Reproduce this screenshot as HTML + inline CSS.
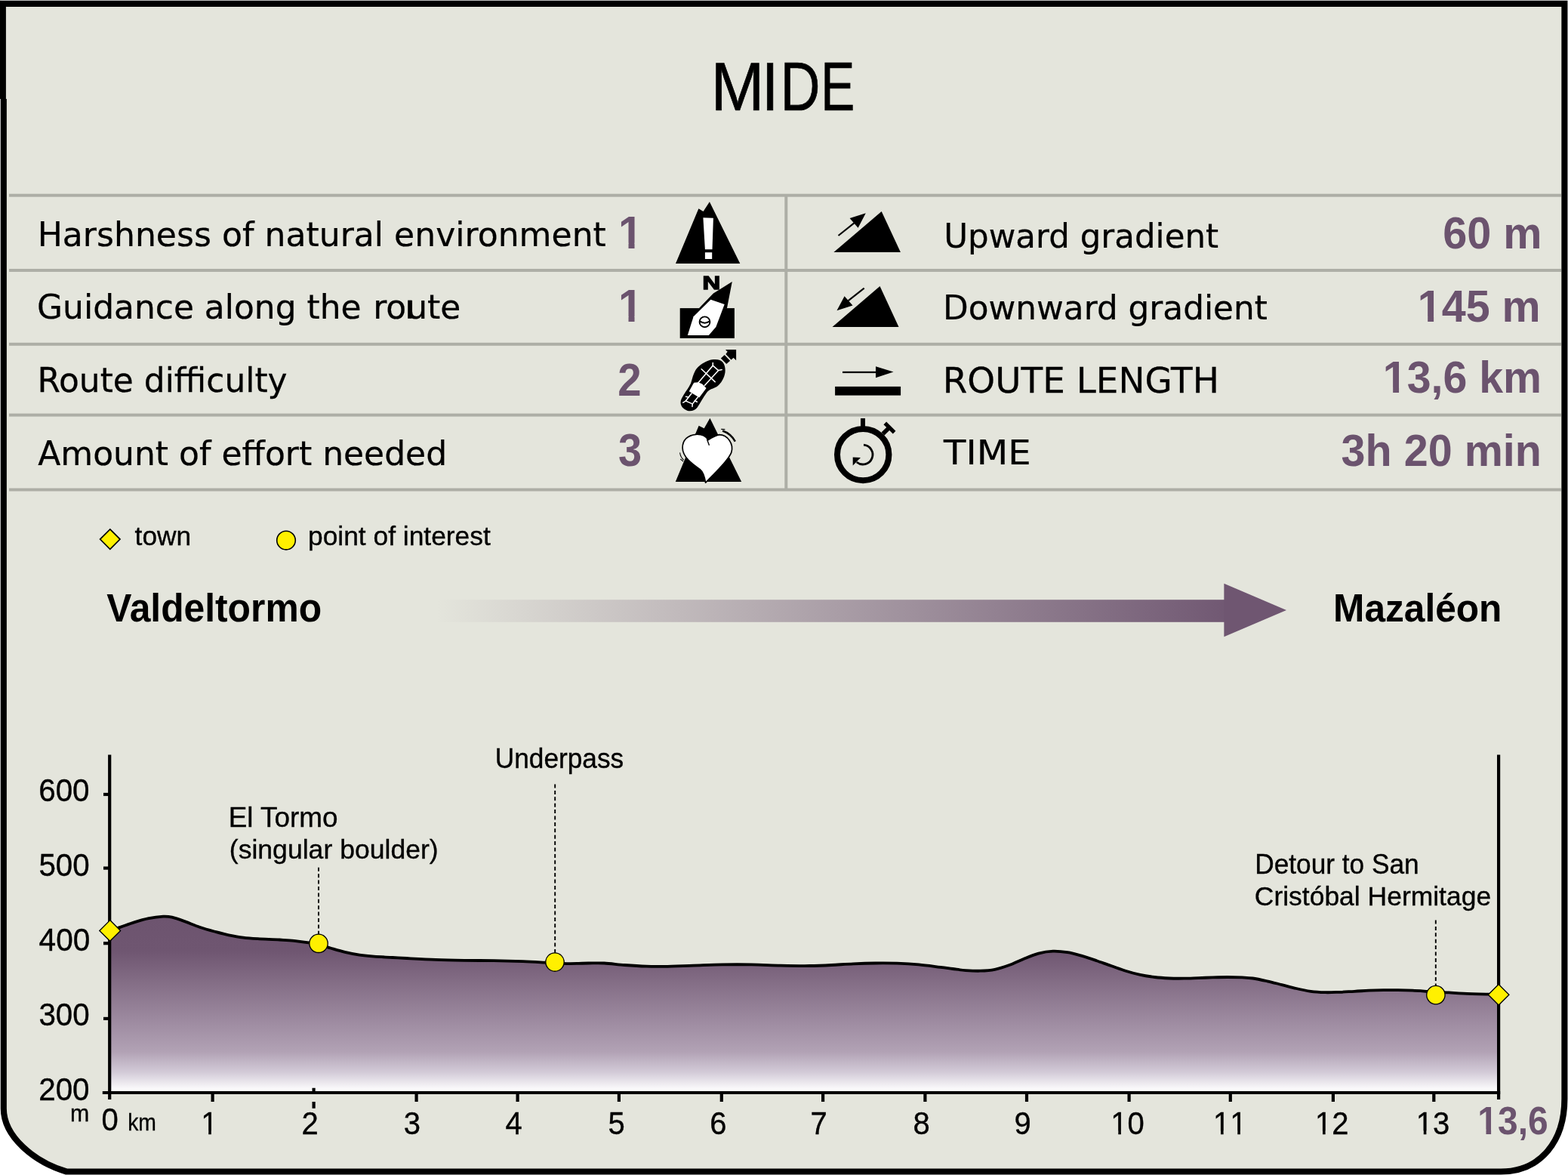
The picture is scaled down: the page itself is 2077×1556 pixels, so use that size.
<!DOCTYPE html>
<html lang="en">
<head>
<meta charset="utf-8">
<title>MIDE - Valdeltormo to Mazaléon</title>
<style>
html,body{margin:0;padding:0;background:#fff;}
body{width:2077px;height:1556px;overflow:hidden;}
svg{display:block;}
text{white-space:pre;}
</style>
</head>
<body>
<svg width="2077" height="1556" viewBox="0 0 2077 1556">
<defs>
<linearGradient id="gArrow" x1="578" y1="0" x2="1640" y2="0" gradientUnits="userSpaceOnUse">
<stop offset="0" stop-color="#e4e5dc"/>
<stop offset="1" stop-color="#6f5671"/>
</linearGradient>
<linearGradient id="gArea" x1="0" y1="1213" x2="0" y2="1447" gradientUnits="userSpaceOnUse">
<stop offset="0" stop-color="#6d546f"/>
<stop offset="0.2" stop-color="#6f5671"/>
<stop offset="0.77" stop-color="#b2a2b5"/>
<stop offset="0.885" stop-color="#d3cbd8"/>
<stop offset="0.99" stop-color="#ffffff"/>
</linearGradient>
<clipPath id="c_n1" clipPathUnits="userSpaceOnUse"><path clip-rule="evenodd" d="M-50 -116 H464 V58 H-50 Z M2.65 -6.82 H13.51 V3.00 H2.65 Z M21.52 -6.82 H31.62 V3.00 H21.52 Z"/></clipPath>
<clipPath id="c_n2" clipPathUnits="userSpaceOnUse"><path clip-rule="evenodd" d="M-50 -116 H464 V58 H-50 Z M2.65 -6.82 H13.51 V3.00 H2.65 Z M21.52 -6.82 H31.62 V3.00 H21.52 Z"/></clipPath>
<clipPath id="c_v2" clipPathUnits="userSpaceOnUse"><path clip-rule="evenodd" d="M-50 -115 H460 V57 H-50 Z M2.62 -6.76 H13.40 V3.00 H2.62 Z M21.33 -6.76 H31.36 V3.00 H21.33 Z"/></clipPath>
<clipPath id="c_v3" clipPathUnits="userSpaceOnUse"><path clip-rule="evenodd" d="M-50 -115 H460 V57 H-50 Z M2.62 -6.76 H13.40 V3.00 H2.62 Z M21.33 -6.76 H31.36 V3.00 H21.33 Z"/></clipPath>
<clipPath id="c_x1" clipPathUnits="userSpaceOnUse"><path clip-rule="evenodd" d="M-50 -80 H320 V40 H-50 Z M2.04 -3.90 H10.04 V3.00 H2.04 Z M13.60 -3.90 H21.28 V3.00 H13.60 Z"/></clipPath>
<clipPath id="c_x10" clipPathUnits="userSpaceOnUse"><path clip-rule="evenodd" d="M-50 -80 H320 V40 H-50 Z M2.04 -3.90 H10.04 V3.00 H2.04 Z M13.60 -3.90 H21.28 V3.00 H13.60 Z"/></clipPath>
<clipPath id="c_x11" clipPathUnits="userSpaceOnUse"><path clip-rule="evenodd" d="M-50 -80 H320 V40 H-50 Z M2.04 -3.90 H10.04 V3.00 H2.04 Z M13.60 -3.90 H21.28 V3.00 H13.60 Z M24.29 -3.90 H32.29 V3.00 H24.29 Z M35.85 -3.90 H43.53 V3.00 H35.85 Z"/></clipPath>
<clipPath id="c_x12" clipPathUnits="userSpaceOnUse"><path clip-rule="evenodd" d="M-50 -80 H320 V40 H-50 Z M2.04 -3.90 H10.04 V3.00 H2.04 Z M13.60 -3.90 H21.28 V3.00 H13.60 Z"/></clipPath>
<clipPath id="c_x13" clipPathUnits="userSpaceOnUse"><path clip-rule="evenodd" d="M-50 -80 H320 V40 H-50 Z M2.04 -3.90 H10.04 V3.00 H2.04 Z M13.60 -3.90 H21.28 V3.00 H13.60 Z"/></clipPath>
<clipPath id="c_xe" clipPathUnits="userSpaceOnUse"><path clip-rule="evenodd" d="M-50 -100 H400 V50 H-50 Z M2.15 -6.00 H11.65 V3.00 H2.15 Z M18.55 -6.00 H27.40 V3.00 H18.55 Z"/></clipPath>
</defs>
<rect width="2077" height="1556" fill="#fff"/>
<!-- frame -->
<path id="frame" d="M4.8 4.9 H2072.4 V1455 C2072.4 1512 2040 1551.5 1988 1551.5 H88 C45 1538.6 4.8 1505 4.8 1468 Z" fill="#e4e5dc" stroke="#000" stroke-width="8.1" stroke-linejoin="miter"/>
<path d="M0 0.8H1.2V131H0Z" fill="#000"/><path d="M7.9 8.95H9.2V131H7.9Z" fill="#e4e5dc"/>
<!-- table rules -->
<g fill="#adaea6">
<rect x="12" y="256.7" width="2056" height="4" />
<rect x="12" y="356.0" width="2056" height="4" />
<rect x="12" y="453.8" width="2056" height="4" />
<rect x="12" y="547.6" width="2056" height="4" />
<rect x="12" y="646.5" width="2056" height="4" />
<rect x="1039.3" y="258.7" width="4" height="390"/>
</g>
<!-- icons -->
<g id="ico-harsh">
<path d="M895 349 L925.4 276.3 L931.6 280.1 L939.9 267.2 L980.3 349 Z" fill="#000"/>
<path d="M931.4 288.2 L944.9 288.8 L943.5 330.2 L933.9 330.2 Z M933.9 334.2 H943.2 V343 H933.9 Z" fill="#fff"/>
</g>
<g id="ico-compass">
<rect x="900.7" y="408.1" width="72.2" height="39.8" fill="#000"/>
<path d="M925.6 408.6 L944.9 388.4 L953 383.5 L969.8 373 L962.9 408.6 Z" fill="#000"/>
<path d="M941.4 396.8 L959.7 402.9 L948.4 433.1 L938.8 444 L910.8 444 L918.6 419.3 Z" fill="#fff"/>
<circle cx="933.5" cy="426.3" r="6.9" fill="none" stroke="#000" stroke-width="1.9"/>
<path d="M927 425.4 Q933.5 430 940 425.4" fill="none" stroke="#000" stroke-width="1.9"/>
</g>
<g id="ico-boot" transform="translate(880 452) scale(0.06427)">
<path d="M1050 375 C1200 375 1255 470 1255 600 C1255 740 1160 900 1050 950 C960 990 920 1000 870 1060 C800 1150 740 1270 680 1360 C640 1420 560 1445 480 1430 C390 1400 335 1330 335 1260 C335 1210 360 1170 400 1100 C450 1020 520 930 550 850 C580 760 590 690 640 600 C700 500 800 440 900 400 C960 380 1000 375 1050 375 Z" fill="#000"/>
<path d="M1165 350 L1240 282 L1355 400 L1280 468 Z" fill="#000"/>
<path d="M1260 172 L1480 172 L1480 392 L1425 340 L1378 382 L1265 264 L1302 215 Z" fill="#000"/>
<g fill="none" stroke="#fff" stroke-width="24" stroke-linecap="round">
<path d="M700 850 L1000 500 L1115 600 L830 910"/>
<path d="M1000 445 L1000 500 M1115 600 L1185 585"/>
<path d="M765 572 L1045 835"/>
<path d="M560 1075 L440 1230 L580 1290 L690 1150"/>
<path d="M440 1230 L385 1262 M580 1290 L575 1345 M445 1140 L500 1150 M625 1222 L675 1248"/>
</g>
<path d="M610 850 L700 845 L780 880 L865 965 L720 1160 L510 1030 Z" fill="#fff"/>
</g>
<g id="ico-heart" transform="translate(880 548) scale(0.06427)">
<path d="M230 1400 L710 245 L820 300 L940 90 L1590 1400 Z" fill="#000"/>
<path d="M900 540 C850 440 750 420 650 425 C480 440 375 540 375 700 C375 900 600 1050 740 1150 C800 1200 830 1300 850 1420 C1000 1250 1300 1000 1380 800 C1440 620 1300 430 1130 430 C1040 450 960 500 900 540 Z" fill="#fff" stroke="#000" stroke-width="26" stroke-linejoin="round"/>
<path d="M880 530 L925 650" stroke="#000" stroke-width="22" fill="none"/>
<path d="M1200 350 C1320 390 1400 460 1460 570" stroke="#000" stroke-width="38" fill="none"/>
<path d="M1170 318 L1250 320" stroke="#000" stroke-width="18" fill="none"/>
<path d="M320 800 C330 870 360 920 400 950 M330 930 L390 980" stroke="#000" stroke-width="16" fill="none"/>
</g>
<g id="ico-up" fill="#000">
<path d="M1104.4 334.1 L1167.7 279.9 L1192.9 334.1 Z"/>
<path d="M1110.5 312 L1131.4 295.3" stroke="#000" stroke-width="2.2" fill="none"/>
<path d="M1146.8 282.2 L1125.6 289.1 L1136.6 301.7 Z"/>
</g>
<g id="ico-down" fill="#000">
<path d="M1102.5 433.1 L1165.5 379.1 L1190.5 433.1 Z"/>
<path d="M1144.7 381.7 L1123.7 398.1" stroke="#000" stroke-width="2.2" fill="none"/>
<path d="M1108.5 411.2 L1118.6 392.3 L1129.5 404.5 Z"/>
</g>
<g id="ico-len" fill="#000">
<rect x="1106.1" y="511.9" width="87" height="11.7"/>
<rect x="1116" y="491.8" width="45" height="2.3"/>
<path d="M1160 485.2 L1183.5 492.6 L1160 500.2 Z"/>
</g>
<g id="ico-time" fill="none" stroke="#000">
<circle cx="1143.2" cy="602.1" r="34.2" stroke-width="8"/>
<path d="M1143 553.9 V566" stroke-width="6"/>
<path d="M1169.5 574.6 L1176.6 567.5" stroke-width="5.6"/>
<path d="M1172.3 560.4 L1184.6 572.7" stroke-width="5.2"/>
<path d="M1144 589.2 A12.9 12.9 0 1 1 1134.8 612" stroke-width="2.8"/>
<path d="M1129.7 605.6 L1140 605.9 L1129.7 616.5 Z" fill="#000" stroke="none"/>
</g>
<path d="M540.2 397.6H545.6V421.8H540.2Z" fill="#000"/>
<!-- legend -->
<path d="M145.8 700.9 L159 714.1 L145.8 727.3 L132.6 714.1 Z" fill="#fff000" stroke="#000" stroke-width="1.7"/>
<circle cx="379" cy="715.6" r="12.3" fill="#fff000" stroke="#000" stroke-width="1.6"/>
<!-- direction arrow -->
<rect x="576" y="794.2" width="1046" height="29.6" fill="url(#gArrow)"/>
<path d="M1621.4 772.7 L1704 808 L1621.4 843.3 Z" fill="#6f5671"/>
<!-- profile -->
<path d="M145.2 1232.4C147.4 1231.7 153.1 1229.9 158.5 1228.1C163.9 1226.3 171.4 1223.4 177.8 1221.4C184.2 1219.4 190.6 1217.5 197.0 1216.2C203.4 1214.9 211.2 1214.0 216.3 1213.7C221.4 1213.5 223.0 1213.6 227.8 1214.7C232.6 1215.8 239.1 1218.2 245.2 1220.4C251.3 1222.6 258.0 1225.6 264.4 1227.8C270.8 1230.0 277.3 1231.8 283.7 1233.5C290.1 1235.2 296.6 1237.0 303.0 1238.3C309.4 1239.6 315.8 1240.8 322.2 1241.6C328.6 1242.4 333.5 1242.7 341.5 1243.2C349.5 1243.7 362.4 1244.0 370.4 1244.5C378.4 1245.0 383.2 1245.2 389.6 1245.9C396.0 1246.6 403.5 1247.6 408.9 1248.4C414.3 1249.2 417.2 1249.8 422.0 1251.0C426.8 1252.2 432.0 1253.8 437.8 1255.5C443.6 1257.2 450.6 1259.4 457.0 1260.9C463.4 1262.4 469.9 1263.7 476.3 1264.7C482.7 1265.7 488.2 1266.2 495.5 1266.7C502.8 1267.2 512.8 1267.6 520.0 1268.0C527.2 1268.4 529.0 1268.5 538.5 1269.0C548.0 1269.5 564.1 1270.4 577.0 1270.9C589.9 1271.4 602.8 1271.6 615.6 1271.8C628.4 1272.0 641.2 1272.0 654.0 1272.2C666.8 1272.4 681.4 1272.8 692.6 1273.2C703.9 1273.6 714.4 1274.3 721.5 1274.7C728.6 1275.1 730.2 1275.2 735.0 1275.4C739.8 1275.6 743.0 1276.1 750.4 1276.1C757.8 1276.1 771.0 1275.6 779.3 1275.5C787.6 1275.4 792.4 1275.1 800.4 1275.5C808.4 1275.9 818.1 1277.3 827.4 1278.0C836.7 1278.7 847.5 1279.4 856.3 1279.7C865.1 1280.0 869.6 1280.0 880.0 1279.8C890.4 1279.6 905.7 1279.0 918.5 1278.6C931.3 1278.2 944.1 1277.6 957.0 1277.4C969.9 1277.2 982.8 1277.2 995.6 1277.4C1008.4 1277.6 1021.2 1278.3 1034.0 1278.6C1046.8 1278.9 1061.3 1279.1 1072.6 1279.0C1083.8 1278.9 1091.9 1278.5 1101.5 1278.0C1111.1 1277.5 1120.8 1276.7 1130.4 1276.3C1140.0 1275.9 1149.7 1275.6 1159.3 1275.5C1168.9 1275.4 1178.5 1275.4 1188.1 1275.7C1197.7 1276.0 1207.4 1276.5 1217.0 1277.4C1226.6 1278.3 1238.4 1280.0 1245.9 1280.9C1253.4 1281.8 1256.4 1282.3 1262.0 1283.0C1267.6 1283.7 1273.2 1284.6 1279.3 1285.1C1285.4 1285.5 1292.1 1285.9 1298.5 1285.7C1304.9 1285.5 1311.4 1285.1 1317.8 1283.8C1324.2 1282.5 1330.6 1280.3 1337.0 1278.0C1343.4 1275.7 1349.9 1272.3 1356.3 1269.7C1362.7 1267.1 1369.2 1264.3 1375.6 1262.6C1382.0 1260.9 1388.4 1259.9 1394.8 1259.7C1401.2 1259.5 1407.7 1260.2 1414.1 1261.2C1420.5 1262.2 1426.9 1264.1 1433.3 1265.9C1439.7 1267.7 1446.2 1270.0 1452.6 1272.2C1459.0 1274.4 1465.4 1276.8 1471.8 1279.0C1478.2 1281.2 1484.7 1283.7 1491.1 1285.7C1497.5 1287.7 1504.0 1289.5 1510.4 1290.9C1516.8 1292.3 1523.2 1293.2 1529.6 1294.0C1536.0 1294.8 1542.5 1295.2 1548.9 1295.5C1555.3 1295.8 1561.7 1295.8 1568.1 1295.7C1574.5 1295.6 1581.0 1295.3 1587.4 1295.1C1593.8 1294.9 1600.2 1294.6 1606.6 1294.4C1613.0 1294.2 1619.5 1294.0 1625.9 1294.0C1632.3 1294.0 1639.6 1294.2 1645.2 1294.4C1650.8 1294.7 1653.8 1294.7 1659.3 1295.5C1664.8 1296.3 1672.1 1297.9 1678.5 1299.3C1684.9 1300.7 1691.4 1302.5 1697.8 1304.1C1704.2 1305.7 1710.6 1307.5 1717.0 1309.0C1723.4 1310.5 1729.9 1311.9 1736.3 1312.8C1742.7 1313.7 1749.2 1314.0 1755.6 1314.2C1762.0 1314.4 1768.4 1314.0 1774.8 1313.8C1781.2 1313.6 1787.7 1313.1 1794.1 1312.8C1800.5 1312.5 1806.9 1312.0 1813.3 1311.7C1819.7 1311.4 1826.2 1311.2 1832.6 1311.1C1839.0 1311.0 1845.4 1311.0 1851.8 1311.1C1858.2 1311.2 1864.7 1311.4 1871.1 1311.7C1877.5 1312.0 1885.3 1312.5 1890.4 1312.8C1895.5 1313.1 1897.1 1313.3 1901.9 1313.6C1906.7 1313.9 1913.2 1314.1 1919.3 1314.4C1925.4 1314.8 1929.8 1315.3 1938.5 1315.7C1947.2 1316.1 1963.5 1316.5 1971.2 1316.7C1979.0 1317.0 1982.7 1317.1 1985.0 1317.2L1985 1447L145.2 1447Z" fill="url(#gArea)"/>
<path d="M145.2 1232.4C147.4 1231.7 153.1 1229.9 158.5 1228.1C163.9 1226.3 171.4 1223.4 177.8 1221.4C184.2 1219.4 190.6 1217.5 197.0 1216.2C203.4 1214.9 211.2 1214.0 216.3 1213.7C221.4 1213.5 223.0 1213.6 227.8 1214.7C232.6 1215.8 239.1 1218.2 245.2 1220.4C251.3 1222.6 258.0 1225.6 264.4 1227.8C270.8 1230.0 277.3 1231.8 283.7 1233.5C290.1 1235.2 296.6 1237.0 303.0 1238.3C309.4 1239.6 315.8 1240.8 322.2 1241.6C328.6 1242.4 333.5 1242.7 341.5 1243.2C349.5 1243.7 362.4 1244.0 370.4 1244.5C378.4 1245.0 383.2 1245.2 389.6 1245.9C396.0 1246.6 403.5 1247.6 408.9 1248.4C414.3 1249.2 417.2 1249.8 422.0 1251.0C426.8 1252.2 432.0 1253.8 437.8 1255.5C443.6 1257.2 450.6 1259.4 457.0 1260.9C463.4 1262.4 469.9 1263.7 476.3 1264.7C482.7 1265.7 488.2 1266.2 495.5 1266.7C502.8 1267.2 512.8 1267.6 520.0 1268.0C527.2 1268.4 529.0 1268.5 538.5 1269.0C548.0 1269.5 564.1 1270.4 577.0 1270.9C589.9 1271.4 602.8 1271.6 615.6 1271.8C628.4 1272.0 641.2 1272.0 654.0 1272.2C666.8 1272.4 681.4 1272.8 692.6 1273.2C703.9 1273.6 714.4 1274.3 721.5 1274.7C728.6 1275.1 730.2 1275.2 735.0 1275.4C739.8 1275.6 743.0 1276.1 750.4 1276.1C757.8 1276.1 771.0 1275.6 779.3 1275.5C787.6 1275.4 792.4 1275.1 800.4 1275.5C808.4 1275.9 818.1 1277.3 827.4 1278.0C836.7 1278.7 847.5 1279.4 856.3 1279.7C865.1 1280.0 869.6 1280.0 880.0 1279.8C890.4 1279.6 905.7 1279.0 918.5 1278.6C931.3 1278.2 944.1 1277.6 957.0 1277.4C969.9 1277.2 982.8 1277.2 995.6 1277.4C1008.4 1277.6 1021.2 1278.3 1034.0 1278.6C1046.8 1278.9 1061.3 1279.1 1072.6 1279.0C1083.8 1278.9 1091.9 1278.5 1101.5 1278.0C1111.1 1277.5 1120.8 1276.7 1130.4 1276.3C1140.0 1275.9 1149.7 1275.6 1159.3 1275.5C1168.9 1275.4 1178.5 1275.4 1188.1 1275.7C1197.7 1276.0 1207.4 1276.5 1217.0 1277.4C1226.6 1278.3 1238.4 1280.0 1245.9 1280.9C1253.4 1281.8 1256.4 1282.3 1262.0 1283.0C1267.6 1283.7 1273.2 1284.6 1279.3 1285.1C1285.4 1285.5 1292.1 1285.9 1298.5 1285.7C1304.9 1285.5 1311.4 1285.1 1317.8 1283.8C1324.2 1282.5 1330.6 1280.3 1337.0 1278.0C1343.4 1275.7 1349.9 1272.3 1356.3 1269.7C1362.7 1267.1 1369.2 1264.3 1375.6 1262.6C1382.0 1260.9 1388.4 1259.9 1394.8 1259.7C1401.2 1259.5 1407.7 1260.2 1414.1 1261.2C1420.5 1262.2 1426.9 1264.1 1433.3 1265.9C1439.7 1267.7 1446.2 1270.0 1452.6 1272.2C1459.0 1274.4 1465.4 1276.8 1471.8 1279.0C1478.2 1281.2 1484.7 1283.7 1491.1 1285.7C1497.5 1287.7 1504.0 1289.5 1510.4 1290.9C1516.8 1292.3 1523.2 1293.2 1529.6 1294.0C1536.0 1294.8 1542.5 1295.2 1548.9 1295.5C1555.3 1295.8 1561.7 1295.8 1568.1 1295.7C1574.5 1295.6 1581.0 1295.3 1587.4 1295.1C1593.8 1294.9 1600.2 1294.6 1606.6 1294.4C1613.0 1294.2 1619.5 1294.0 1625.9 1294.0C1632.3 1294.0 1639.6 1294.2 1645.2 1294.4C1650.8 1294.7 1653.8 1294.7 1659.3 1295.5C1664.8 1296.3 1672.1 1297.9 1678.5 1299.3C1684.9 1300.7 1691.4 1302.5 1697.8 1304.1C1704.2 1305.7 1710.6 1307.5 1717.0 1309.0C1723.4 1310.5 1729.9 1311.9 1736.3 1312.8C1742.7 1313.7 1749.2 1314.0 1755.6 1314.2C1762.0 1314.4 1768.4 1314.0 1774.8 1313.8C1781.2 1313.6 1787.7 1313.1 1794.1 1312.8C1800.5 1312.5 1806.9 1312.0 1813.3 1311.7C1819.7 1311.4 1826.2 1311.2 1832.6 1311.1C1839.0 1311.0 1845.4 1311.0 1851.8 1311.1C1858.2 1311.2 1864.7 1311.4 1871.1 1311.7C1877.5 1312.0 1885.3 1312.5 1890.4 1312.8C1895.5 1313.1 1897.1 1313.3 1901.9 1313.6C1906.7 1313.9 1913.2 1314.1 1919.3 1314.4C1925.4 1314.8 1929.8 1315.3 1938.5 1315.7C1947.2 1316.1 1963.5 1316.5 1971.2 1316.7C1979.0 1317.0 1982.7 1317.1 1985.0 1317.2" fill="none" stroke="#000" stroke-width="3.8"/>
<g stroke="#000" stroke-width="4.2" fill="none">
<line x1="145.2" y1="999.4" x2="145.2" y2="1456"/>
<line x1="1985.1" y1="999.4" x2="1985.1" y2="1456"/>
<line x1="135.8" y1="1447" x2="1987.2" y2="1447"/>
<line x1="137" y1="1052.0" x2="145" y2="1052.0"/>
<line x1="137" y1="1149.6" x2="145" y2="1149.6"/>
<line x1="137" y1="1249.2" x2="145" y2="1249.2"/>
<line x1="137" y1="1348.9" x2="145" y2="1348.9"/>
<line x1="281.6" y1="1447" x2="281.6" y2="1459"/>
<path d="M415.6 1440.8V1448M415.6 1459.1V1467.8"/>
<line x1="551.6" y1="1447" x2="551.6" y2="1459"/>
<line x1="685.6" y1="1447" x2="685.6" y2="1459"/>
<line x1="819.9" y1="1447" x2="819.9" y2="1459"/>
<line x1="955.8" y1="1447" x2="955.8" y2="1459"/>
<line x1="1090.1" y1="1447" x2="1090.1" y2="1459"/>
<line x1="1225.4" y1="1447" x2="1225.4" y2="1459"/>
<line x1="1360.0" y1="1447" x2="1360.0" y2="1459"/>
<line x1="1495.6" y1="1447" x2="1495.6" y2="1459"/>
<line x1="1629.8" y1="1447" x2="1629.8" y2="1459"/>
<line x1="1765.9" y1="1447" x2="1765.9" y2="1459"/>
<line x1="1899.3" y1="1447" x2="1899.3" y2="1459"/>
</g>
<g stroke="#000" stroke-width="1.9" stroke-dasharray="5 3.4" fill="none">
<line x1="422" y1="1148.8" x2="422" y2="1238"/>
<line x1="735.2" y1="1038.5" x2="735.2" y2="1263"/>
<line x1="1901.8" y1="1218.5" x2="1901.8" y2="1306"/>
</g>
<g fill="#fff000" stroke="#000" stroke-width="1.35">
<circle cx="422" cy="1249.3" r="12.2"/>
<circle cx="735" cy="1274" r="12.2"/>
<circle cx="1901.9" cy="1317.6" r="12.2"/>
<path d="M145.7 1218.6 L159.6 1232.4 L145.7 1246.2 L131.8 1232.4 Z"/>
<path d="M1985.1 1303.4 L1998.9 1317.2 L1985.1 1331 L1971.3 1317.2 Z"/>
</g>
<!-- text -->
<text id="title" aria-label="MIDE" y="146.00" font-family='"Liberation Sans", sans-serif' font-size="91" fill="#000" stroke="#000" stroke-width="0.7"><tspan x="941.86" textLength="70.48" lengthAdjust="spacingAndGlyphs">M</tspan><tspan x="1008.87" textLength="22.65" lengthAdjust="spacingAndGlyphs">I</tspan><tspan x="1033.82" textLength="52.67" lengthAdjust="spacingAndGlyphs">D</tspan><tspan x="1087.26" textLength="45.04" lengthAdjust="spacingAndGlyphs">E</tspan></text>
<text id="l1" transform="translate(49.67 326.20) scale(0.9800 1.0000)" font-family='"DejaVu Sans", "Liberation Sans", sans-serif' font-size="45" font-weight="normal" fill="#000" stroke="#000" stroke-width="0.25">Harshness of natural environment</text>
<text id="l2" transform="translate(49.06 422.20) scale(0.9763 1.0000)" font-family='"DejaVu Sans", "Liberation Sans", sans-serif' font-size="45" font-weight="normal" fill="#000" stroke="#000" stroke-width="0.25">Guidance along the <tspan dx="1.7">route</tspan></text>
<text id="l3" transform="translate(49.49 519.30) scale(0.9754 1.0000)" font-family='"DejaVu Sans", "Liberation Sans", sans-serif' font-size="45" font-weight="normal" fill="#000" stroke="#000" stroke-width="0.25">Route difficulty</text>
<text id="l4" transform="translate(50.21 615.80) scale(0.9780 1.0000)" font-family='"DejaVu Sans", "Liberation Sans", sans-serif' font-size="45" font-weight="normal" fill="#000" stroke="#000" stroke-width="0.25">Amount of effort needed</text>
<text id="n1" transform="translate(819.00 329.00) scale(1.0000 1.0500)" font-family='"Liberation Sans", sans-serif' font-size="58" font-weight="bold" fill="#6b536e" clip-path="url(#c_n1)" style="font-kerning:none">1</text>
<text id="n2" transform="translate(819.00 426.10) scale(1.0000 1.0500)" font-family='"Liberation Sans", sans-serif' font-size="58" font-weight="bold" fill="#6b536e" clip-path="url(#c_n2)" style="font-kerning:none">1</text>
<text id="n3" transform="translate(818.24 524.00) scale(0.9724 1.0400)" font-family='"Liberation Sans", sans-serif' font-size="58" font-weight="bold" fill="#6b536e">2</text>
<text id="n4" transform="translate(819.03 616.80) scale(0.9655 1.0500)" font-family='"Liberation Sans", sans-serif' font-size="58" font-weight="bold" fill="#6b536e">3</text>
<text id="r1" transform="translate(1250.13 327.60) scale(0.9685 1.0000)" font-family='"DejaVu Sans", "Liberation Sans", sans-serif' font-size="45" font-weight="normal" fill="#000" stroke="#000" stroke-width="0.25">Upward gradient</text>
<text id="r2" transform="translate(1249.12 422.80) scale(0.9725 1.0000)" font-family='"DejaVu Sans", "Liberation Sans", sans-serif' font-size="45" font-weight="normal" fill="#000" stroke="#000" stroke-width="0.25">Downward gradient</text>
<text id="r3" transform="translate(1248.81 519.90) scale(1.0417 1.0220)" font-family='"DejaVu Sans", "Liberation Sans", sans-serif' font-size="45" font-weight="normal" fill="#000" stroke="#000" stroke-width="0.25">ROUTE LENGTH</text>
<text id="r4" transform="translate(1250.04 615.30) scale(1.0708 1.0000)" font-family='"DejaVu Sans", "Liberation Sans", sans-serif' font-size="45" font-weight="normal" fill="#000" stroke="#000" stroke-width="0.25">TIME</text>
<text id="v1" transform="translate(1911.19 328.60) scale(1.0024 1.0450)" font-family='"Liberation Sans", sans-serif' font-size="57.5" font-weight="bold" fill="#6b536e">60 m</text>
<text id="v2" transform="translate(1877.80 426.30) scale(0.9994 1.0400)" font-family='"Liberation Sans", sans-serif' font-size="57.5" font-weight="bold" fill="#6b536e" clip-path="url(#c_v2)" style="font-kerning:none">145 m</text>
<text id="v3" transform="translate(1831.81 520.40) scale(0.9966 1.0300)" font-family='"Liberation Sans", sans-serif' font-size="57.5" font-weight="bold" fill="#6b536e" clip-path="url(#c_v3)" style="font-kerning:none">13,6 km</text>
<text id="v4" transform="translate(1776.60 616.50) scale(1.0004 1.0250)" font-family='"Liberation Sans", sans-serif' font-size="57.5" font-weight="bold" fill="#6b536e">3h 20 min</text>
<text id="lg1" transform="translate(178.60 721.60) scale(1.0097 0.9900)" font-family='"Liberation Sans", sans-serif' font-size="35" font-weight="normal" fill="#000" stroke="#000" stroke-width="0.35">town</text>
<text id="lg2" transform="translate(407.98 721.60) scale(1.0109 0.9900)" font-family='"Liberation Sans", sans-serif' font-size="35" font-weight="normal" fill="#000" stroke="#000" stroke-width="0.35">point of interest</text>
<text id="from" transform="translate(141.20 822.80) scale(0.9762 1.0000)" font-family='"Liberation Sans", sans-serif' font-size="51" font-weight="bold" fill="#000">Valdeltormo</text>
<text id="to" transform="translate(1766.09 822.80) scale(0.9731 1.0000)" font-family='"Liberation Sans", sans-serif' font-size="51" font-weight="bold" fill="#000">Mazaléon</text>
<text id="a1" transform="translate(655.82 1017.40) scale(0.9923 1.0150)" font-family='"Liberation Sans", sans-serif' font-size="35.5" font-weight="normal" fill="#000" stroke="#000" stroke-width="0.35">Underpass</text>
<text id="a2" transform="translate(302.68 1094.80) scale(1.0393 1.0200)" font-family='"Liberation Sans", sans-serif' font-size="35.5" font-weight="normal" fill="#000" stroke="#000" stroke-width="0.35">El Tormo</text>
<text id="a3" transform="translate(303.79 1137.30) scale(1.0026 0.9900)" font-family='"Liberation Sans", sans-serif' font-size="35.5" font-weight="normal" fill="#000" stroke="#000" stroke-width="0.35">(singular boulder)</text>
<text id="a4" transform="translate(1662.22 1156.50) scale(0.9930 1.0150)" font-family='"Liberation Sans", sans-serif' font-size="35.5" font-weight="normal" fill="#000" stroke="#000" stroke-width="0.35">Detour to San</text>
<text id="a5" transform="translate(1661.80 1198.60) scale(0.9990 1.0050)" font-family='"Liberation Sans", sans-serif' font-size="35.5" font-weight="normal" fill="#000" stroke="#000" stroke-width="0.35">Cristóbal Hermitage</text>
<text id="y600" transform="translate(51.18 1061.30) scale(1.0094 1.0400)" font-family='"Liberation Sans", sans-serif' font-size="40" font-weight="normal" fill="#000" stroke="#000" stroke-width="0.35">600</text>
<text id="y500" transform="translate(51.39 1159.90) scale(1.0078 1.0400)" font-family='"Liberation Sans", sans-serif' font-size="40" font-weight="normal" fill="#000" stroke="#000" stroke-width="0.35">500</text>
<text id="y400" transform="translate(51.60 1259.10) scale(1.0138 1.0400)" font-family='"Liberation Sans", sans-serif' font-size="40" font-weight="normal" fill="#000" stroke="#000" stroke-width="0.35">400</text>
<text id="y300" transform="translate(51.39 1358.40) scale(1.0078 1.0400)" font-family='"Liberation Sans", sans-serif' font-size="40" font-weight="normal" fill="#000" stroke="#000" stroke-width="0.35">300</text>
<text id="y200" transform="translate(51.19 1456.50) scale(1.0094 1.0400)" font-family='"Liberation Sans", sans-serif' font-size="40" font-weight="normal" fill="#000" stroke="#000" stroke-width="0.35">200</text>
<text id="um" transform="translate(92.91 1484.90) scale(0.9478 1.0000)" font-family='"Liberation Sans", sans-serif' font-size="32" font-weight="normal" fill="#000" stroke="#000" stroke-width="0.35">m</text>
<text id="x0" transform="translate(134.50 1496.80) scale(1.0000 1.0400)" font-family='"Liberation Sans", sans-serif' font-size="40" font-weight="normal" fill="#000" stroke="#000" stroke-width="0.35">0</text>
<text id="ukm" transform="translate(169.17 1497.10) scale(0.8872 1.0000)" font-family='"Liberation Sans", sans-serif' font-size="32" font-weight="normal" fill="#000" stroke="#000" stroke-width="0.35">km</text>
<text id="x1" transform="translate(266.20 1501.50) scale(1.0000 1.0400)" font-family='"Liberation Sans", sans-serif' font-size="40" font-weight="normal" fill="#000" clip-path="url(#c_x1)" style="font-kerning:none" stroke="#000" stroke-width="0.35">1</text>
<text id="x2" transform="translate(399.45 1501.50) scale(1.0000 1.0400)" font-family='"Liberation Sans", sans-serif' font-size="40" font-weight="normal" fill="#000" stroke="#000" stroke-width="0.35">2</text>
<text id="x3" transform="translate(534.85 1501.50) scale(1.0000 1.0400)" font-family='"Liberation Sans", sans-serif' font-size="40" font-weight="normal" fill="#000" stroke="#000" stroke-width="0.35">3</text>
<text id="x4" transform="translate(669.50 1501.50) scale(1.0000 1.0400)" font-family='"Liberation Sans", sans-serif' font-size="40" font-weight="normal" fill="#000" stroke="#000" stroke-width="0.35">4</text>
<text id="x5" transform="translate(805.40 1501.50) scale(1.0000 1.0400)" font-family='"Liberation Sans", sans-serif' font-size="40" font-weight="normal" fill="#000" stroke="#000" stroke-width="0.35">5</text>
<text id="x6" transform="translate(940.20 1501.50) scale(1.0000 1.0400)" font-family='"Liberation Sans", sans-serif' font-size="40" font-weight="normal" fill="#000" stroke="#000" stroke-width="0.35">6</text>
<text id="x7" transform="translate(1073.50 1501.50) scale(1.0000 1.0400)" font-family='"Liberation Sans", sans-serif' font-size="40" font-weight="normal" fill="#000" stroke="#000" stroke-width="0.35">7</text>
<text id="x8" transform="translate(1209.50 1501.50) scale(1.0000 1.0400)" font-family='"Liberation Sans", sans-serif' font-size="40" font-weight="normal" fill="#000" stroke="#000" stroke-width="0.35">8</text>
<text id="x9" transform="translate(1343.50 1501.50) scale(1.0000 1.0400)" font-family='"Liberation Sans", sans-serif' font-size="40" font-weight="normal" fill="#000" stroke="#000" stroke-width="0.35">9</text>
<text id="x10" transform="translate(1471.30 1501.50) scale(1.0000 1.0400)" font-family='"Liberation Sans", sans-serif' font-size="40" font-weight="normal" fill="#000" clip-path="url(#c_x10)" style="font-kerning:none" stroke="#000" stroke-width="0.35">10</text>
<text id="x11" transform="translate(1607.00 1501.50) scale(1.0000 1.0400)" font-family='"Liberation Sans", sans-serif' font-size="40" font-weight="normal" fill="#000" clip-path="url(#c_x11)" style="font-kerning:none" stroke="#000" stroke-width="0.35">11</text>
<text id="x12" transform="translate(1742.00 1501.50) scale(1.0000 1.0400)" font-family='"Liberation Sans", sans-serif' font-size="40" font-weight="normal" fill="#000" clip-path="url(#c_x12)" style="font-kerning:none" stroke="#000" stroke-width="0.35">12</text>
<text id="x13" transform="translate(1875.75 1501.50) scale(1.0000 1.0400)" font-family='"Liberation Sans", sans-serif' font-size="40" font-weight="normal" fill="#000" clip-path="url(#c_x13)" style="font-kerning:none" stroke="#000" stroke-width="0.35">13</text>
<text id="xe" transform="translate(1957.32 1501.90) scale(0.9591 1.0300)" font-family='"Liberation Sans", sans-serif' font-size="50" font-weight="bold" fill="#6b536e" clip-path="url(#c_xe)" style="font-kerning:none">13,6</text>
<text id="icoN" transform="translate(930.57 383.40) scale(1.4267 1.0000)" font-family='"Liberation Sans", sans-serif' font-size="23" font-weight="bold" fill="#000" stroke="#000" stroke-width="1.3">N</text>
</svg>
</body>
</html>
